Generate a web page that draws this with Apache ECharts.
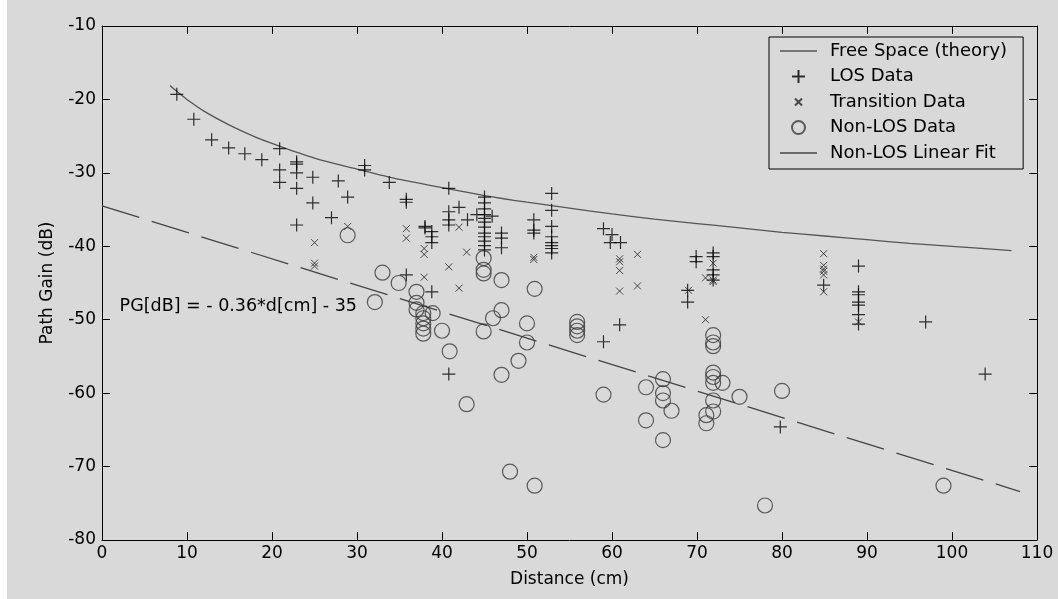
<!DOCTYPE html>
<html>
<head>
<meta charset="utf-8">
<script src="https://cdn.jsdelivr.net/npm/echarts@6/dist/echarts.min.js"></script>
<style>
html,body{margin:0;padding:0;background:#fff;}
#chart{position:absolute;left:0;top:0;width:1058px;height:599px;
background:linear-gradient(to right,#ffffff 0,#ffffff 7px,#d9d9d9 7px,#d9d9d9 100%);}
</style>
</head>
<body>
<div id="chart"></div>
<script>
// ---- data ----
const freeSpaceD  = [8, 9, 10, 12, 15, 18, 20, 25, 30, 35, 40, 45, 50, 55, 60, 65, 70, 75, 80, 85, 90, 95, 100, 107];
const freeSpacePG = [-18.1, -19.1, -20, -21.6, -23.5, -25.1, -26, -28, -29.5, -30.9, -32, -33.1, -34, -34.8, -35.6, -36.3, -36.9, -37.5, -38.1, -38.6, -39.1, -39.6, -40, -40.6];

const fitD  = [0, 108];
const fitPG = [-34.5, -73.4];

const losD  = [8.8, 10.8, 12.9, 14.9, 16.8, 18.8, 20.9, 20.9, 20.9, 22.9, 22.9, 22.9, 22.9, 22.9,
  24.8, 24.8, 27.0, 27.8, 28.9, 30.9, 30.9, 33.8, 35.8, 35.8, 35.8, 38.0, 38.0, 38.8, 38.8, 38.8, 38.8,
  40.8, 40.8, 40.8, 40.8, 40.8, 42.0, 43.0, 44.1,
  45, 45, 45, 45, 45, 45, 45, 45, 45, 45, 45, 45,
  45.9, 47.0, 47.0, 47.0, 50.8, 50.8, 50.8,
  52.9, 52.9, 52.9, 52.9, 52.9, 52.9, 52.9, 52.9,
  59, 60, 59.8, 61, 60.9, 59, 69.9, 69.9, 68.9, 68.9,
  71.9, 71.9, 71.9, 71.9, 71.9, 84.9,
  89, 89, 89, 89, 89, 89, 89, 96.9, 103.9, 79.8];
const losPG = [-19.3, -22.7, -25.5, -26.6, -27.4, -28.2, -26.7, -29.6, -31.3, -28.5, -28.8, -30.0, -32.1, -37.1,
  -30.6, -34.1, -36.1, -31.1, -33.3, -29.0, -29.6, -31.3, -33.6, -34.0, -43.9, -37.3, -37.5, -38.0, -38.7, -39.5, -46.2,
  -32.1, -35.3, -36.4, -37.1, -57.4, -34.7, -36.4, -35.7,
  -33.3, -34.1, -34.9, -35.7, -36.2, -36.7, -37.4, -38.2, -38.7, -39.3, -39.9, -40.5,
  -35.9, -38.2, -38.9, -40.2, -36.4, -37.8, -38.2,
  -32.8, -35.1, -37.3, -38.7, -39.5, -39.9, -40.3, -40.9,
  -37.6, -38.4, -39.5, -39.5, -50.7, -53.0, -41.4, -42.1, -46.0, -47.6,
  -40.9, -41.4, -43.2, -43.9, -44.6, -45.3,
  -42.7, -46.2, -46.6, -47.6, -48.0, -49.3, -50.6, -50.3, -57.4, -64.6];

const transD  = [25, 25, 25, 28.9, 35.8, 35.8, 37.9, 37.9, 37.9, 40.8, 42, 42.9, 42, 50.8, 50.8,
  60.9, 60.9, 60.9, 60.9, 63, 63, 71, 71.9, 71.9, 71.9, 71, 69,
  84.9, 84.9, 84.9, 84.9, 84.9, 84.9, 89];
const transPG = [-39.5, -42.3, -42.7, -37.3, -37.6, -38.9, -40.3, -41.1, -44.2, -42.8, -37.4, -40.8, -45.7, -41.5, -41.8,
  -41.7, -42.1, -43.3, -46.1, -41.1, -45.4, -44.3, -42.3, -44.6, -44.8, -50.0, -46.0,
  -41.0, -42.6, -43.1, -43.4, -43.9, -46.2, -50.3];

const nlosD  = [28.9, 33, 34.9, 32.1, 37, 37, 37, 37.8, 37.8, 37.8, 37.8, 37.8, 38.9, 40, 40.9, 42.9,
  44.9, 44.9, 44.9, 44.9, 47, 47, 47, 46, 50.9, 50, 50, 49, 48, 50.9,
  55.9, 55.9, 55.9, 55.9, 59, 64, 64, 66, 66, 66, 66, 67,
  71.9, 71.9, 71.9, 71.9, 71.9, 71.9, 71.9, 71.9, 73, 71.1, 71.1, 75, 80, 78, 99];
const nlosPG = [-38.5, -43.6, -45.0, -47.6, -46.2, -47.7, -48.6, -49.1, -49.8, -50.5, -51.2, -51.9, -49.1, -51.5, -54.3, -61.5,
  -41.6, -43.2, -43.7, -51.6, -44.6, -48.7, -57.5, -49.8, -45.8, -50.5, -53.1, -55.6, -70.7, -72.6,
  -50.3, -50.9, -51.5, -52.1, -60.2, -59.2, -63.7, -58.1, -60.0, -61.0, -66.4, -62.4,
  -52.1, -53.1, -53.6, -57.2, -57.8, -58.6, -61.0, -62.5, -58.6, -63.0, -64.1, -60.5, -59.7, -75.3, -72.6];

const xTicks = {min: 0, max: 110, step: 10};
const yTicks = {min: -80, max: -10, step: 10};
const equationText = 'PG[dB] = - 0.36*d[cm] - 35';

// ---- build ----
const zip = (a, b) => a.map((v, i) => [v, b[i]]);
const FONT = 'DejaVu Sans';
const PLUS = 'path://M6.5,0L6.5,13M0,6.5L13,6.5';
const CROSS = 'path://M0,0L10,10M0,10L10,0';
const CROSS_LEG = 'path://M0,0L0.01,0M13,13L13.01,13M3,3L10,10M3,10L10,3';
const LINE_LEG = 'path://M0,0L37,0L37,1.3L0,1.3Z';

const baseAxis = (min, max, step) => ({
  type: 'value', min: min, max: max, interval: step,
  axisLine: {show: true, onZero: false, lineStyle: {color: '#000', width: 1}},
  axisTick: {show: true, inside: true, length: 8, lineStyle: {color: '#000', width: 1}},
  splitLine: {show: false}
});

const chart = echarts.init(document.getElementById('chart'), null, {renderer: 'canvas'});
chart.setOption({
  backgroundColor: 'transparent',
  animation: false,
  textStyle: {fontFamily: FONT},
  grid: {left: 102, right: 21, top: 26, bottom: 59, containLabel: false},
  xAxis: [
    Object.assign(baseAxis(xTicks.min, xTicks.max, xTicks.step), {
      position: 'bottom',
      axisLabel: {color: '#000', fontSize: 17, fontFamily: FONT, margin: 5},
      name: 'Distance (cm)', nameLocation: 'middle', nameGap: 31,
      nameTextStyle: {color: '#000', fontSize: 17, fontFamily: FONT}
    }),
    Object.assign(baseAxis(xTicks.min, xTicks.max, xTicks.step), {
      position: 'top', axisLabel: {show: false}
    })
  ],
  yAxis: [
    Object.assign(baseAxis(yTicks.min, yTicks.max, yTicks.step), {
      position: 'left',
      axisLabel: {color: '#000', fontSize: 17, fontFamily: FONT, margin: 6},
      name: 'Path Gain (dB)', nameLocation: 'middle', nameGap: 46,
      nameTextStyle: {color: '#000', fontSize: 17, fontFamily: FONT}
    }),
    Object.assign(baseAxis(yTicks.min, yTicks.max, yTicks.step), {
      position: 'right', axisLabel: {show: false}
    })
  ],
  legend: {
    orient: 'vertical', left: 769, top: 37,
    borderColor: '#000', borderWidth: 1, backgroundColor: '#d9d9d9',
    padding: [4, 16, 6, 11],
    itemWidth: 37, itemHeight: 13, itemGap: 5.5,
    textStyle: {color: '#000', fontSize: 18, fontFamily: FONT, lineHeight: 20, padding: [0, 0, 0, 8]},
    data: [
      {name: 'Free Space (theory)', icon: LINE_LEG, itemStyle: {color: '#555', borderWidth: 0}},
      {name: 'LOS Data'},
      {name: 'Transition Data', icon: CROSS_LEG},
      {name: 'Non-LOS Data'},
      {name: 'Non-LOS Linear Fit', icon: LINE_LEG, itemStyle: {color: '#444', borderWidth: 0}}
    ]
  },
  graphic: [{
    type: 'text', x: 357, y: 306, z: 100,
    style: {text: equationText, font: '17.5px "DejaVu Sans"', fill: '#000', align: 'right', verticalAlign: 'middle'}
  }],
  series: [
    {
      name: 'Free Space (theory)', type: 'line', data: zip(freeSpaceD, freeSpacePG),
      symbol: 'none', showSymbol: false, smooth: 0.3,
      lineStyle: {color: '#555', width: 1.3},
      itemStyle: {color: '#555'}, z: 3
    },
    {
      name: 'LOS Data', type: 'scatter', data: zip(losD, losPG),
      symbol: PLUS, symbolSize: 13,
      itemStyle: {color: 'rgba(0,0,0,0)', borderColor: '#000', borderWidth: 1.2}, z: 4
    },
    {
      name: 'Transition Data', type: 'scatter', data: zip(transD, transPG),
      symbol: CROSS, symbolSize: 7,
      itemStyle: {color: 'rgba(0,0,0,0)', borderColor: '#222', borderWidth: 1}, z: 4
    },
    {
      name: 'Non-LOS Data', type: 'scatter', data: zip(nlosD, nlosPG),
      symbol: 'circle', symbolSize: 15,
      itemStyle: {color: 'rgba(0,0,0,0)', borderColor: '#3a3a3a', borderWidth: 1.2}, z: 4
    },
    {
      name: 'Non-LOS Linear Fit', type: 'line', data: zip(fitD, fitPG),
      symbol: 'none', showSymbol: false,
      lineStyle: {color: '#444', width: 1.3, type: [39, 13]},
      itemStyle: {color: '#444'}, z: 3
    }
  ]
});
</script>
</body>
</html>
